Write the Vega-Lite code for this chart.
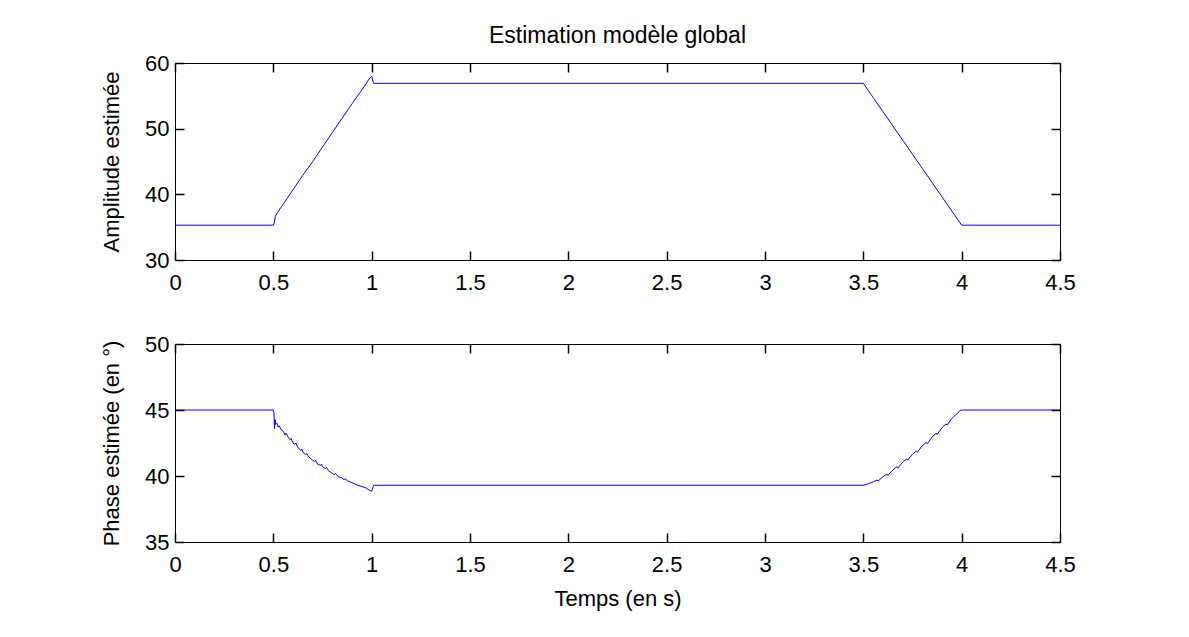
{
  "$schema": "https://vega.github.io/schema/vega-lite/v6.json",
  "background": "white",
  "padding": {"left": 100, "top": 24, "right": 5, "bottom": 5},
  "spacing": 38,
  "config": {
    "font": "Liberation Sans",
    "view": {"stroke": "black", "strokeWidth": 1},
    "axis": {
      "labelFont": "Liberation Sans",
      "labelFontSize": 22,
      "labelColor": "black",
      "titleFont": "Liberation Sans",
      "titleFontSize": 22,
      "titleFontWeight": "normal",
      "titleColor": "black",
      "domain": false,
      "ticks": true,
      "tickColor": "black",
      "tickOpacity": 1,
      "tickSize": 9,
      "tickWidth": 1.5,
      "offset": -9,
      "grid": false,
      "labelFlush": false,
      "labelOverlap": false
    },
    "title": {"font": "Liberation Sans", "fontSize": 23, "fontWeight": "normal", "color": "black"}
  },
  "datasets": {
    "amplitude": [
      {"t": 0, "v": 35.3}, {"t": 0.5, "v": 35.3}, {"t": 0.505, "v": 35.7}, {"t": 0.51, "v": 36.6},
      {"t": 0.52, "v": 37.2}, {"t": 0.55, "v": 38.5}, {"t": 0.6, "v": 40.7}, {"t": 0.65, "v": 42.9},
      {"t": 0.7, "v": 45.0}, {"t": 0.75, "v": 47.2}, {"t": 0.8, "v": 49.4}, {"t": 0.85, "v": 51.6},
      {"t": 0.9, "v": 53.8}, {"t": 0.95, "v": 55.9}, {"t": 0.99, "v": 57.7}, {"t": 1.0, "v": 58.0},
      {"t": 1.005, "v": 57.4}, {"t": 1.01, "v": 56.9}, {"t": 3.5, "v": 56.9}, {"t": 3.55, "v": 54.74},
      {"t": 3.6, "v": 52.58}, {"t": 3.65, "v": 50.42}, {"t": 3.7, "v": 48.26}, {"t": 3.75, "v": 46.1},
      {"t": 3.8, "v": 43.94}, {"t": 3.85, "v": 41.78}, {"t": 3.9, "v": 39.62}, {"t": 3.95, "v": 37.46},
      {"t": 4.0, "v": 35.3}, {"t": 4.5, "v": 35.3}
    ],
    "phase": [
      {"t": 0, "v": 45.0}, {"t": 0.5, "v": 45.0}, {"t": 0.503, "v": 44.8}, {"t": 0.506, "v": 43.6},
      {"t": 0.508, "v": 44.3}, {"t": 0.512, "v": 43.9}, {"t": 0.518, "v": 44.0}, {"t": 0.525, "v": 43.7},
      {"t": 0.53, "v": 43.8}, {"t": 0.54, "v": 43.5}, {"t": 0.55, "v": 43.4}, {"t": 0.56, "v": 43.1},
      {"t": 0.565, "v": 43.25}, {"t": 0.575, "v": 42.95}, {"t": 0.585, "v": 42.75}, {"t": 0.59, "v": 42.85},
      {"t": 0.6, "v": 42.5}, {"t": 0.61, "v": 42.4}, {"t": 0.615, "v": 42.5}, {"t": 0.625, "v": 42.15},
      {"t": 0.64, "v": 41.95}, {"t": 0.645, "v": 42.05}, {"t": 0.65, "v": 41.8}, {"t": 0.665, "v": 41.6},
      {"t": 0.67, "v": 41.7}, {"t": 0.68, "v": 41.45}, {"t": 0.7, "v": 41.2}, {"t": 0.71, "v": 41.1},
      {"t": 0.715, "v": 41.2}, {"t": 0.725, "v": 40.9}, {"t": 0.74, "v": 40.8}, {"t": 0.745, "v": 40.9},
      {"t": 0.75, "v": 40.7}, {"t": 0.765, "v": 40.55}, {"t": 0.77, "v": 40.65}, {"t": 0.78, "v": 40.4},
      {"t": 0.8, "v": 40.2}, {"t": 0.81, "v": 40.1}, {"t": 0.815, "v": 40.2}, {"t": 0.83, "v": 39.95},
      {"t": 0.85, "v": 39.85}, {"t": 0.86, "v": 39.7}, {"t": 0.865, "v": 39.8}, {"t": 0.88, "v": 39.6},
      {"t": 0.9, "v": 39.5}, {"t": 0.92, "v": 39.35}, {"t": 0.95, "v": 39.2}, {"t": 0.97, "v": 39.1},
      {"t": 0.98, "v": 39.0}, {"t": 0.99, "v": 38.9}, {"t": 1.0, "v": 38.85}, {"t": 1.005, "v": 39.1},
      {"t": 1.01, "v": 39.3}, {"t": 3.5, "v": 39.3}, {"t": 3.52, "v": 39.38}, {"t": 3.55, "v": 39.55},
      {"t": 3.57, "v": 39.7}, {"t": 3.575, "v": 39.62}, {"t": 3.6, "v": 39.95}, {"t": 3.62, "v": 40.15},
      {"t": 3.625, "v": 40.05}, {"t": 3.65, "v": 40.45}, {"t": 3.67, "v": 40.7}, {"t": 3.675, "v": 40.6},
      {"t": 3.7, "v": 41.05}, {"t": 3.72, "v": 41.3}, {"t": 3.725, "v": 41.2}, {"t": 3.75, "v": 41.65},
      {"t": 3.77, "v": 41.9}, {"t": 3.775, "v": 41.8}, {"t": 3.8, "v": 42.3}, {"t": 3.82, "v": 42.55},
      {"t": 3.825, "v": 42.45}, {"t": 3.85, "v": 42.95}, {"t": 3.87, "v": 43.25}, {"t": 3.875, "v": 43.15},
      {"t": 3.9, "v": 43.65}, {"t": 3.92, "v": 43.95}, {"t": 3.925, "v": 43.85}, {"t": 3.95, "v": 44.35},
      {"t": 3.97, "v": 44.65}, {"t": 3.98, "v": 44.75}, {"t": 3.99, "v": 44.95}, {"t": 4.0, "v": 45.0},
      {"t": 4.5, "v": 45.0}
    ]
  },
  "vconcat": [
    {
      "width": 885,
      "height": 197,
      "title": {"text": "Estimation modèle global", "anchor": "middle", "offset": 4},
      "data": {"name": "amplitude"},
      "layer": [
        {
          "mark": {"type": "line", "color": "#0000ff", "strokeWidth": 1},
          "encoding": {
            "x": {"field": "t", "type": "quantitative", "scale": {"domain": [0, 4.5], "nice": false, "zero": false},
                  "axis": {"orient": "bottom", "ticks": true, "values": [0, 0.5, 1, 1.5, 2, 2.5, 3, 3.5, 4, 4.5], "format": "~g", "labelPadding": 12, "title": null}},
            "y": {"field": "v", "type": "quantitative", "scale": {"domain": [30, 60], "nice": false, "zero": false},
                  "axis": {"orient": "left", "ticks": true, "values": [30, 40, 50, 60], "labelPadding": 6, "title": "Amplitude estimée", "titlePadding": 21}}
          }
        },
        {
          "mark": {"type": "line", "opacity": 0},
          "encoding": {
            "x": {"field": "t", "type": "quantitative", "axis": {"orient": "top", "ticks": true, "values": [0, 0.5, 1, 1.5, 2, 2.5, 3, 3.5, 4, 4.5], "labels": false, "title": null}},
            "y": {"field": "v", "type": "quantitative", "axis": {"orient": "right", "ticks": true, "values": [30, 40, 50, 60], "labels": false, "title": null}}
          }
        }
      ],
      "resolve": {"axis": {"x": "independent", "y": "independent"}}
    },
    {
      "width": 885,
      "height": 198,
      "data": {"name": "phase"},
      "layer": [
        {
          "mark": {"type": "line", "color": "#0000ff", "strokeWidth": 1},
          "encoding": {
            "x": {"field": "t", "type": "quantitative", "scale": {"domain": [0, 4.5], "nice": false, "zero": false},
                  "axis": {"orient": "bottom", "ticks": true, "values": [0, 0.5, 1, 1.5, 2, 2.5, 3, 3.5, 4, 4.5], "format": "~g", "labelPadding": 12, "title": "Temps (en s)", "titlePadding": 13}},
            "y": {"field": "v", "type": "quantitative", "scale": {"domain": [35, 50], "nice": false, "zero": false},
                  "axis": {"orient": "left", "ticks": true, "values": [35, 40, 45, 50], "labelPadding": 6, "title": "Phase estimée (en °)", "titlePadding": 21}}
          }
        },
        {
          "mark": {"type": "line", "opacity": 0},
          "encoding": {
            "x": {"field": "t", "type": "quantitative", "axis": {"orient": "top", "ticks": true, "values": [0, 0.5, 1, 1.5, 2, 2.5, 3, 3.5, 4, 4.5], "labels": false, "title": null}},
            "y": {"field": "v", "type": "quantitative", "axis": {"orient": "right", "ticks": true, "values": [35, 40, 45, 50], "labels": false, "title": null}}
          }
        }
      ],
      "resolve": {"axis": {"x": "independent", "y": "independent"}}
    }
  ]
}
